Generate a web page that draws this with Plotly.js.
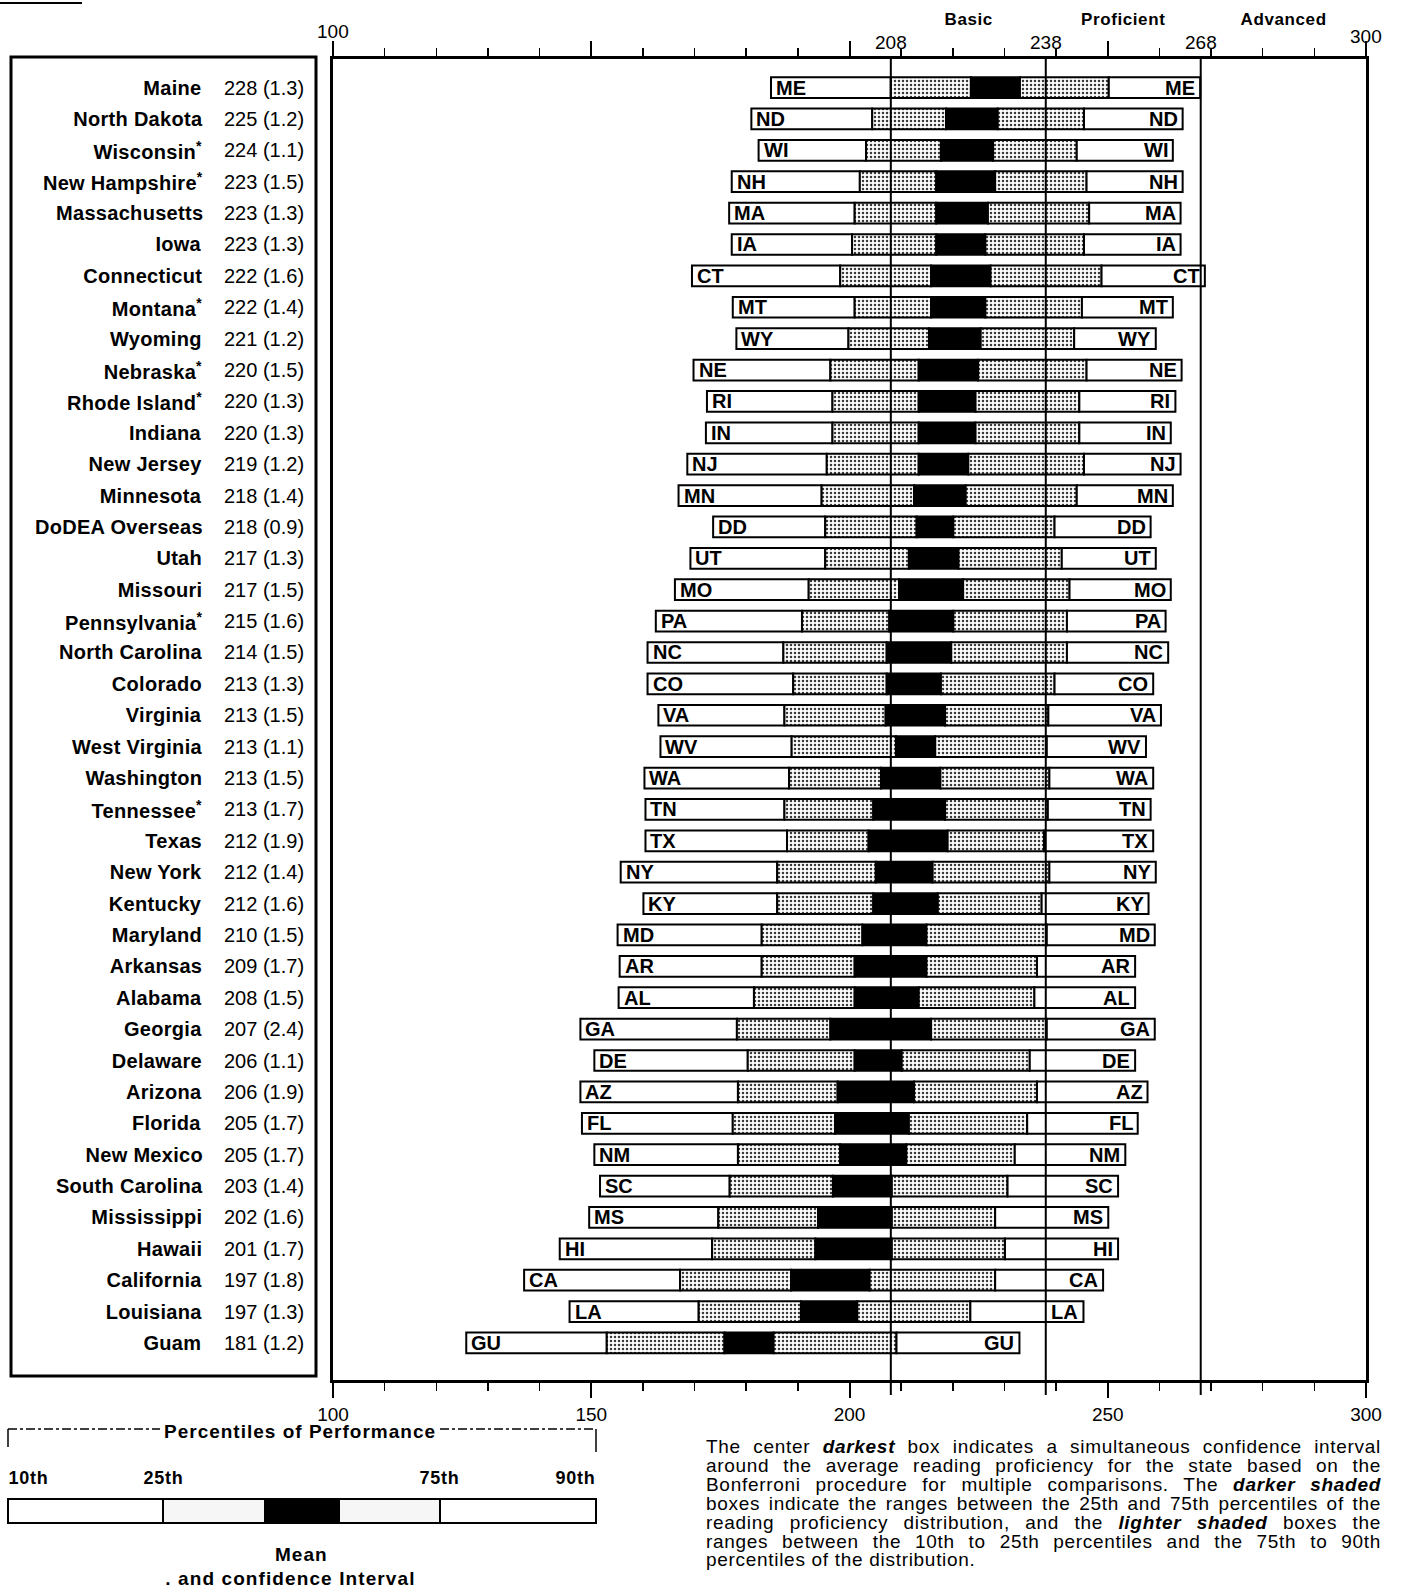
<!DOCTYPE html>
<html>
<head>
<meta charset="utf-8">
<script src="https://cdn.plot.ly/plotly-3.0.1.min.js"></script>
<style>
  html, body { margin: 0; padding: 0; background: #ffffff; }
  #chart { width: 1401px; height: 1588px; }
</style>
</head>
<body>
<div id="chart"></div>
<script>
// ---------------- DATA ----------------
const stateNames = ["Maine","North Dakota","Wisconsin*","New Hampshire*","Massachusetts","Iowa","Connecticut","Montana*","Wyoming","Nebraska*","Rhode Island*","Indiana","New Jersey","Minnesota","DoDEA Overseas","Utah","Missouri","Pennsylvania*","North Carolina","Colorado","Virginia","West Virginia","Washington","Tennessee*","Texas","New York","Kentucky","Maryland","Arkansas","Alabama","Georgia","Delaware","Arizona","Florida","New Mexico","South Carolina","Mississippi","Hawaii","California","Louisiana","Guam"];
const stateAbbr = ["ME","ND","WI","NH","MA","IA","CT","MT","WY","NE","RI","IN","NJ","MN","DD","UT","MO","PA","NC","CO","VA","WV","WA","TN","TX","NY","KY","MD","AR","AL","GA","DE","AZ","FL","NM","SC","MS","HI","CA","LA","GU"];
const meanScore = [228,225,224,223,223,223,222,222,221,220,220,220,219,218,218,217,217,215,214,213,213,213,213,213,212,212,212,210,209,208,207,206,206,205,205,203,202,201,197,197,181];
const stdErr = [1.3,1.2,1.1,1.5,1.3,1.3,1.6,1.4,1.2,1.5,1.3,1.3,1.2,1.4,0.9,1.3,1.5,1.6,1.5,1.3,1.5,1.1,1.5,1.7,1.9,1.4,1.6,1.5,1.7,1.5,2.4,1.1,1.9,1.7,1.7,1.4,1.6,1.7,1.8,1.3,1.2];
const pct10 = [184.8,181.0,182.4,177.2,176.7,177.2,169.5,177.4,178.1,169.8,172.4,172.2,168.6,166.9,173.6,169.2,166.2,162.5,160.9,160.9,163.0,163.4,160.3,160.5,160.5,155.7,160.1,155.1,155.5,155.3,147.9,150.6,147.9,148.2,150.6,151.7,149.6,143.9,137.0,145.8,125.8];
const pct25 = [208.0,204.4,203.2,202.0,201.0,200.5,198.2,201.0,199.8,196.3,196.7,196.7,195.6,194.6,195.3,195.3,192.1,190.8,187.2,189.1,187.4,188.8,188.3,187.4,187.9,186.0,186.0,183.0,183.0,181.5,178.2,180.3,178.4,177.4,178.4,176.8,174.6,173.4,167.2,170.8,153.0];
const ciLow = [223.5,218.7,217.7,216.8,216.8,216.8,215.8,215.8,215.4,213.4,213.4,213.4,213.4,212.5,213.0,211.5,209.6,207.7,207.2,207.2,207.0,209.0,206.1,204.6,203.7,205.1,204.6,202.5,201.0,201.0,196.3,201.0,197.7,197.2,198.2,196.8,193.9,193.4,188.7,190.6,175.8];
const ciHigh = [233.0,228.7,227.8,228.2,226.8,226.3,227.3,226.3,225.4,224.9,224.4,224.4,223.0,222.5,220.1,221.1,222.0,220.1,219.7,217.7,218.5,216.6,217.6,218.5,219.0,216.1,217.1,214.9,214.9,213.4,215.8,210.1,212.5,211.5,211.0,208.2,208.2,208.2,203.9,201.5,185.3];
const pct75 = [250.2,245.4,244.0,245.9,246.4,245.4,248.8,245.0,243.5,245.9,244.5,244.5,245.4,244.0,239.7,241.1,242.6,242.1,242.1,239.7,238.5,238.2,238.7,238.4,237.7,238.7,237.2,238.2,236.3,235.8,238.2,234.9,236.3,234.4,232.0,230.6,228.2,230.1,228.2,223.4,209.1];
const pct90 = [267.9,264.5,262.6,264.5,264.1,264.1,268.8,262.6,259.3,264.3,263.1,262.2,264.1,262.6,258.3,259.3,262.2,261.2,261.7,258.8,260.3,257.4,258.8,258.3,258.8,259.3,257.9,259.1,255.3,255.3,259.1,255.3,257.7,255.8,253.4,252.0,250.1,252.0,249.1,245.3,232.9];
const levelCuts = [208, 238, 268];
const levelNames = ["Basic", "Proficient", "Advanced"];
const levelLabelPos = [223, 253, 284];
const axisEndLabels = [100, 300];
const legendPctLabels = ["10th", "25th", "75th", "90th"];
const noteLines = [
  "The center <b><i>darkest</i></b> box indicates a simultaneous confidence interval",
  "around the average reading proficiency for the state based on the",
  "Bonferroni procedure for multiple comparisons. The <b><i>darker shaded</i></b>",
  "boxes indicate the ranges between the 25th and 75th percentiles of the",
  "reading proficiency distribution, and the <b><i>lighter shaded</i></b> boxes the",
  "ranges between the 10th to 25th percentiles and the 75th to 90th",
  "percentiles of the distribution."
];

// ---------------- GEOMETRY HELPERS ----------------
const L = 333, R = 1366, T = 59, B = 1380;
const W = R - L, H = B - T;
const PX = x => (x - L) / W;
const PY = y => (B - y) / H;
const SANS = '"Liberation Sans", Arial, Helvetica, sans-serif';
const BLACK = '#000000';

const diff = (a, b) => a.map((v, i) => b[i] - v);
const barW = 0.66;
const stipple = { shape: '.', bgcolor: '#ffffff', fgcolor: '#3a3a3a', size: 4, solidity: 0.32 };

function seg(base, top, fill, pattern) {
  const t = {
    type: 'bar', orientation: 'h', y: stateAbbr, base: base, x: diff(base, top),
    width: barW, hoverinfo: 'skip', showlegend: false,
    marker: { color: fill, line: { color: BLACK, width: 2 } }
  };
  if (pattern) t.marker.pattern = pattern;
  return t;
}

const data = [
  seg(pct10, pct25, '#ffffff'),
  seg(pct25, ciLow, '#ffffff', stipple),
  seg(ciLow, ciHigh, BLACK),
  seg(ciHigh, pct75, '#ffffff', stipple),
  seg(pct75, pct90, '#ffffff')
];

// ---------------- ANNOTATIONS ----------------
const ann = [];
const spaced = [];   // [annotation index, letter spacing px]
stateNames.forEach((n, i) => {
  spaced.push([ann.length, 0.3]);
  ann.push({ xref: 'paper', yref: 'y', x: PX(203), y: stateAbbr[i], xanchor: 'right', yanchor: 'middle',
    text: '<b>' + n.replace('*', '<sup>*</sup>') + '</b>', showarrow: false,
    font: { family: SANS, size: 20, color: BLACK } });
  ann.push({ xref: 'paper', yref: 'y', x: PX(306), y: stateAbbr[i], xanchor: 'right', yanchor: 'middle',
    text: meanScore[i] + ' (' + stdErr[i].toFixed(1) + ')', showarrow: false,
    font: { family: SANS, size: 20, color: BLACK } });
  ann.push({ xref: 'x', yref: 'y', x: pct10[i], y: stateAbbr[i], xanchor: 'left', yanchor: 'middle', xshift: 3,
    text: '<b>' + stateAbbr[i] + '</b>', showarrow: false,
    font: { family: SANS, size: 20, color: BLACK } });
  ann.push({ xref: 'x', yref: 'y', x: pct90[i], y: stateAbbr[i], xanchor: 'right', yanchor: 'middle', xshift: -3,
    text: '<b>' + stateAbbr[i] + '</b>', showarrow: false,
    font: { family: SANS, size: 20, color: BLACK } });
});
// top axis labels
axisEndLabels.forEach((v, k) => {
  ann.push({ xref: 'x', yref: 'paper', x: v, y: PY(k === 0 ? 31 : 37), xanchor: 'center', yanchor: 'middle',
    text: String(v), showarrow: false, font: { family: SANS, size: 19, color: BLACK } });
});
levelCuts.forEach(v => {
  ann.push({ xref: 'x', yref: 'paper', x: v, y: PY(42), xanchor: 'center', yanchor: 'middle',
    text: String(v), showarrow: false, font: { family: SANS, size: 19, color: BLACK } });
});
levelNames.forEach((n, k) => {
  spaced.push([ann.length, 0.6]);
  ann.push({ xref: 'x', yref: 'paper', x: levelLabelPos[k], y: PY(19), xanchor: 'center', yanchor: 'middle',
    text: '<b>' + n + '</b>', showarrow: false, font: { family: SANS, size: 17, color: BLACK } });
});
// legend texts
spaced.push([ann.length, 1.0]);
ann.push({ xref: 'paper', yref: 'paper', x: PX(300), y: PY(1431), xanchor: 'center', yanchor: 'middle',
  text: '<b>Percentiles of Performance</b>', showarrow: false, font: { family: SANS, size: 19, color: BLACK } });
const pctLabelX = [[8, 'left'], [163, 'center'], [439, 'center'], [596, 'right']];
legendPctLabels.forEach((t, k) => {
  spaced.push([ann.length, 0.8]);
  ann.push({ xref: 'paper', yref: 'paper', x: PX(pctLabelX[k][0]), y: PY(1478), xanchor: pctLabelX[k][1], yanchor: 'middle',
    text: '<b>' + t + '</b>', showarrow: false, font: { family: SANS, size: 18, color: BLACK } });
});
spaced.push([ann.length, 1.0]);
ann.push({ xref: 'paper', yref: 'paper', x: PX(301), y: PY(1554), xanchor: 'center', yanchor: 'middle',
  text: '<b>Mean</b>', showarrow: false, font: { family: SANS, size: 19, color: BLACK } });
spaced.push([ann.length, 1.1]);
ann.push({ xref: 'paper', yref: 'paper', x: PX(290), y: PY(1578), xanchor: 'center', yanchor: 'middle',
  text: '<b>. and confidence Interval</b>', showarrow: false, font: { family: SANS, size: 19, color: BLACK } });
// note paragraph
const noteIdx = [];
noteLines.forEach((t, k) => {
  noteIdx.push(ann.length);
  ann.push({ xref: 'paper', yref: 'paper', x: PX(704), y: PY(1447 + k * 18.8), xanchor: 'left', yanchor: 'middle',
    align: 'left', text: t, showarrow: false, font: { family: SANS, size: 19, color: BLACK } });
});

// ---------------- SHAPES ----------------
const shapes = [];
levelCuts.forEach(v => {
  shapes.push({ type: 'line', xref: 'x', yref: 'paper', x0: v, x1: v, y0: -15 / H, y1: 1, layer: 'above',
    line: { color: BLACK, width: 2 } });
});
shapes.push({ type: 'rect', xref: 'paper', yref: 'paper', x0: PX(11), x1: PX(316), y0: PY(1376), y1: PY(57),
  line: { color: BLACK, width: 3 }, fillcolor: 'rgba(0,0,0,0)' });
shapes.push({ type: 'line', xref: 'paper', yref: 'paper', x0: PX(0), x1: PX(82), y0: PY(3), y1: PY(3),
  line: { color: BLACK, width: 2 } });
// legend bracket
shapes.push({ type: 'line', xref: 'paper', yref: 'paper', x0: PX(8), x1: PX(160), y0: PY(1429), y1: PY(1429),
  line: { color: BLACK, width: 1.5, dash: 'dashdot' } });
shapes.push({ type: 'line', xref: 'paper', yref: 'paper', x0: PX(440), x1: PX(596), y0: PY(1429), y1: PY(1429),
  line: { color: BLACK, width: 1.5, dash: 'dashdot' } });
shapes.push({ type: 'line', xref: 'paper', yref: 'paper', x0: PX(8), x1: PX(8), y0: PY(1429), y1: PY(1447),
  line: { color: BLACK, width: 1.5 } });
shapes.push({ type: 'line', xref: 'paper', yref: 'paper', x0: PX(596), x1: PX(596), y0: PY(1429), y1: PY(1452),
  line: { color: BLACK, width: 1.5 } });
// legend key bar
const keyEdges = [8, 163, 265, 339, 440, 596];
const keyFill = ['#ffffff', '#f6f6f6', BLACK, '#f6f6f6', '#ffffff'];
for (let k = 0; k < 5; k++) {
  shapes.push({ type: 'rect', xref: 'paper', yref: 'paper', x0: PX(keyEdges[k]), x1: PX(keyEdges[k + 1]),
    y0: PY(1523), y1: PY(1499), line: { color: BLACK, width: 2 }, fillcolor: keyFill[k] });
}

// ---------------- LAYOUT ----------------
const layout = {
  width: 1401, height: 1588,
  margin: { l: L, r: 1401 - R, t: T, b: 1588 - B, pad: 0 },
  paper_bgcolor: '#ffffff', plot_bgcolor: '#ffffff',
  barmode: 'overlay', showlegend: false,
  font: { family: SANS, color: BLACK },
  xaxis: {
    range: [100, 300], tick0: 100, dtick: 50, ticks: 'outside', ticklen: 15, tickwidth: 2, tickcolor: BLACK,
    minor: { dtick: 10, ticks: 'outside', ticklen: 8, tickwidth: 1.5, tickcolor: BLACK },
    showline: true, linewidth: 3, linecolor: BLACK, mirror: 'allticks',
    showgrid: false, zeroline: false, fixedrange: true,
    tickfont: { family: SANS, size: 19, color: BLACK }
  },
  yaxis: {
    type: 'category', categoryorder: 'array', categoryarray: stateAbbr,
    range: [41.18, -0.91], showticklabels: false, ticks: '',
    showline: true, linewidth: 3, linecolor: BLACK, mirror: true,
    showgrid: false, zeroline: false, fixedrange: true
  },
  annotations: ann,
  shapes: shapes
};

Plotly.newPlot('chart', data, layout, { staticPlot: true, displayModeBar: false }).then(gd => {
  const getText = k => gd.querySelector('.annotation[data-index="' + k + '"] text.annotation-text');
  spaced.forEach(([k, ls]) => {
    const t = getText(k);
    if (t) t.style.letterSpacing = ls + 'px';
  });
  // paragraph: slight letter spacing, then justify all but the last line
  const target = 1381 - 706;
  noteIdx.forEach((k, j) => {
    const t = getText(k);
    if (!t) return;
    t.style.letterSpacing = '0.7px';
    if (j === noteIdx.length - 1) return;
    const w = t.getBBox().width;
    const spaces = (t.textContent.match(/ /g) || []).length;
    if (spaces > 0 && w < target) t.style.wordSpacing = ((target - w) / spaces) + 'px';
  });
});
</script>
</body>
</html>
